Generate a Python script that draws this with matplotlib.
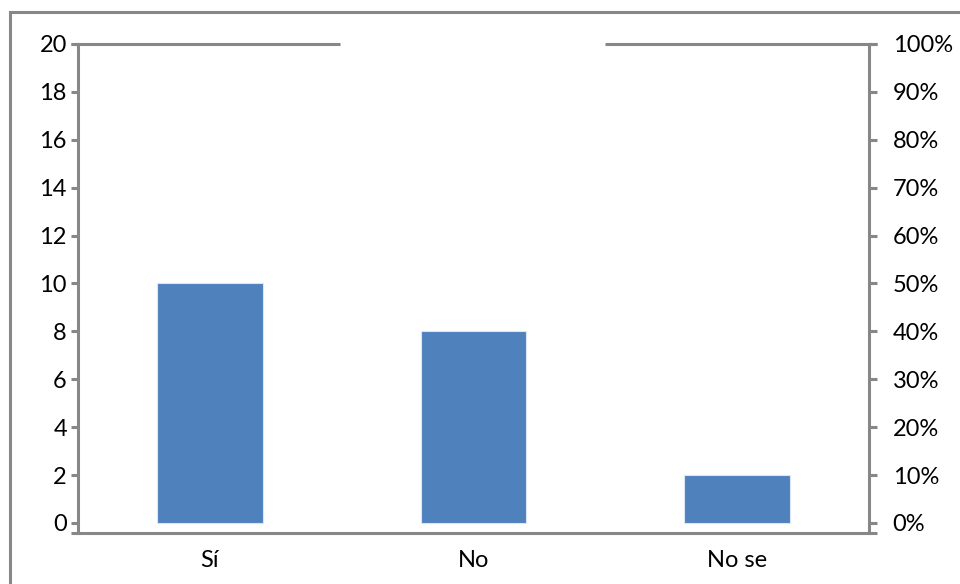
import matplotlib
matplotlib.use("Agg")
import matplotlib.pyplot as plt
from matplotlib.lines import Line2D

categories = ["Sí", "No", "No se"]
values = [10, 8, 2]
left_ticks = [0, 2, 4, 6, 8, 10, 12, 14, 16, 18, 20]
right_ticks = [0, 10, 20, 30, 40, 50, 60, 70, 80, 90, 100]
right_labels = [f"{t}%" for t in right_ticks]

GRAY = "#878787"
BAR = "#4F81BD"
LW = 2.2
FS = 17

plt.rcParams['font.family'] = ['Lato', 'DejaVu Sans']

fig = plt.figure(figsize=(9.6, 5.84), dpi=100)
ax = fig.add_axes([78/960, 1-533/584, (869-78)/960, (533-44)/584])
ax2 = ax.twinx()

x = list(range(len(categories)))
ax.bar(x, values, width=0.4, color=BAR, edgecolor="#dbe6f2", linewidth=0.8, zorder=3)

ymin = -0.42
ax.set_ylim(ymin, 20)
ax.set_xlim(-0.5, len(categories) - 0.5)
ax2.set_ylim(ymin * 5, 100)

ax.set_yticks(left_ticks)
ax.set_yticklabels([str(t) for t in left_ticks], fontsize=FS, color="black")
ax2.set_yticks(right_ticks)
ax2.set_yticklabels(right_labels, fontsize=FS, color="black")
ax.set_xticks(x)
ax.set_xticklabels(categories, fontsize=FS, color="black")

ax.tick_params(axis='y', direction='out', length=5, width=LW, color=GRAY, pad=3)
ax2.tick_params(axis='y', direction='out', length=6, width=LW, color=GRAY, pad=11)
ax.tick_params(axis='x', length=0, pad=12)

for a in (ax, ax2):
    for s in a.spines.values():
        s.set_visible(False)
ax.spines['left'].set_visible(True)
ax.spines['left'].set_color(GRAY)
ax.spines['left'].set_linewidth(LW)
ax2.spines['right'].set_visible(True)
ax2.spines['right'].set_color(GRAY)
ax2.spines['right'].set_linewidth(LW)

# bottom axis line (extends slightly past the spines)
ax.plot([-0.0085, 1.0105], [0, 0], transform=ax.transAxes, color=GRAY, lw=LW,
        clip_on=False, solid_capstyle='butt', zorder=4)
# top border with a gap in the middle
ax.plot([-0.0085, (340-78)/791], [1, 1], transform=ax.transAxes, color=GRAY, lw=LW,
        clip_on=False, solid_capstyle='butt', zorder=4)
ax.plot([(605-78)/791, 1.0105], [1, 1], transform=ax.transAxes, color=GRAY, lw=LW,
        clip_on=False, solid_capstyle='butt', zorder=4)

# outer chart-area border (left and top edges visible)
fig.add_artist(Line2D([10/960, 10/960, 1.0], [0.0, 1-12/584, 1-12/584],
                      transform=fig.transFigure, color=GRAY, lw=LW,
                      solid_joinstyle='miter'))

fig.savefig("out.png", dpi=100)
